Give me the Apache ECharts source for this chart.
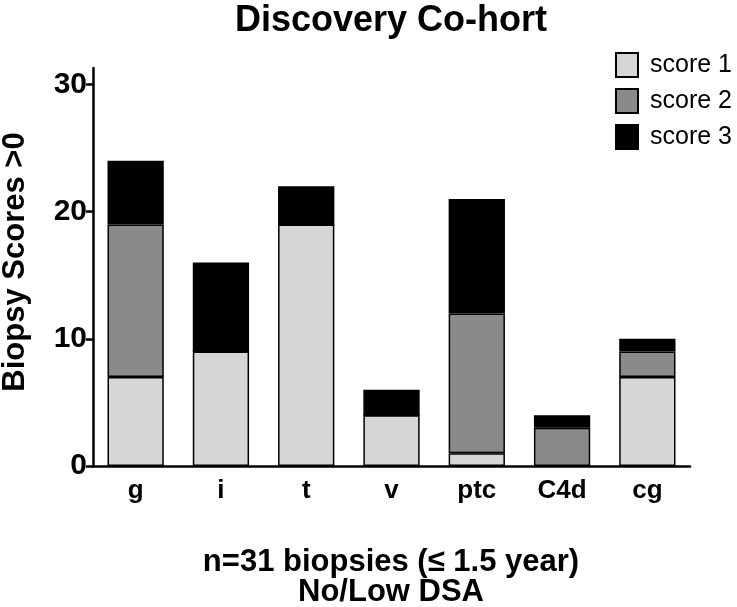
<!DOCTYPE html>
<html>
<head>
<meta charset="utf-8">
<script src="https://cdn.jsdelivr.net/npm/echarts@6/dist/echarts.min.js"></script>
<style>html,body{margin:0;padding:0;background:#fff}#c{width:737px;height:607px}</style>
</head>
<body>
<div id="c"></div>
<script>
var categories = ['g', 'i', 't', 'v', 'ptc', 'C4d', 'cg'];
var score1 = [7, 9, 19, 4, 1, 0, 7];
var score2 = [12, 0, 0, 0, 11, 3, 2];
var score3 = [5, 7, 3, 2, 9, 1, 1];
var yTicks = [0, 10, 20, 30];
var seriesNames = ['score 1', 'score 2', 'score 3'];
var seriesColors = ['#d6d6d6', '#8a8a8a', '#000000'];

var FONT = 'Liberation Sans, Arial, sans-serif';
var chart = echarts.init(document.getElementById('c'), null, {renderer: 'canvas'});
var data = [score1, score2, score3];
var option = {
  animation: false,
  backgroundColor: '#fff',
  grid: {left: 93, right: 47, top: 68, bottom: 141, containLabel: false},
  legend: {
    orient: 'vertical', left: 615, top: 52, padding: 0,
    itemWidth: 22, itemHeight: 24, itemGap: 10,
    icon: 'rect',
    textStyle: {fontFamily: FONT, fontSize: 25, color: '#000', padding: [0, 0, 0, 7]},
    data: seriesNames
  },
  xAxis: {
    type: 'category', data: categories,
    axisLine: {lineStyle: {color: '#000', width: 2.5}},
    axisTick: {alignWithLabel: true, length: 7, lineStyle: {color: '#000', width: 2.5}},
    axisLabel: {fontFamily: FONT, fontWeight: 'bold', fontSize: 26, color: '#000', margin: 12}
  },
  yAxis: {
    type: 'value', min: 0, max: 31.3, interval: 10,
    splitLine: {show: false},
    axisLine: {show: true, lineStyle: {color: '#000', width: 2.5}},
    axisTick: {show: true, length: 7, customValues: yTicks, lineStyle: {color: '#000', width: 2.5}},
    axisLabel: {customValues: yTicks, fontFamily: FONT, fontWeight: 'bold', fontSize: 30, color: '#000', margin: 6}
  },
  series: seriesNames.map(function (n, k) {
    return {
      name: n, type: 'bar', stack: 'all', data: data[k],
      barWidth: '66%',
      itemStyle: {color: seriesColors[k], borderColor: '#000', borderWidth: 1.5}
    };
  }),
  graphic: [
    {type: 'text', x: 391, y: 21, style: {text: 'Discovery Co-hort', font: 'bold 36px ' + FONT, fill: '#000', textAlign: 'center', textVerticalAlign: 'middle'}},
    {type: 'text', x: 15, y: 262, rotation: Math.PI / 2, style: {text: 'Biopsy Scores >0', font: 'bold 31px ' + FONT, fill: '#000', textAlign: 'center', textVerticalAlign: 'middle'}},
    {type: 'text', x: 391, y: 562, style: {text: 'n=31 biopsies (\u2264 1.5 year)', font: 'bold 31px ' + FONT, fill: '#000', textAlign: 'center', textVerticalAlign: 'middle'}},
    {type: 'text', x: 391, y: 592, style: {text: 'No/Low DSA', font: 'bold 31px ' + FONT, fill: '#000', textAlign: 'center', textVerticalAlign: 'middle'}}
  ]
};
chart.setOption(option);
</script>
</body>
</html>
